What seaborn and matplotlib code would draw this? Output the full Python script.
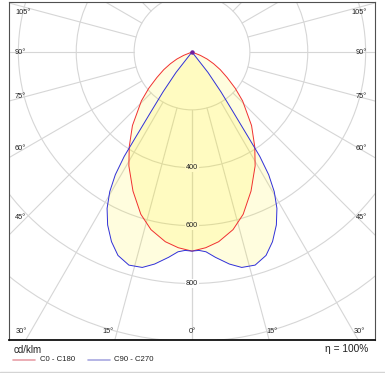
import numpy as np
import pandas as pd
import matplotlib
matplotlib.use("Agg")
import matplotlib.pyplot as plt
from matplotlib.lines import Line2D
from matplotlib.patches import Circle
import seaborn as sns

# ---------------- data (cd/klm) ----------------
red_gamma = [0, 4, 8, 13, 17.5, 23, 29, 33.5, 39, 46, 50, 54, 58, 61.5, 65, 68, 72]
red_cd = [688, 678, 662, 630, 588, 522, 450, 393, 327, 243, 195, 150, 115, 85, 58, 31, 0]
blue_gamma = [0, 2, 4, 6.5, 10, 13, 16.5, 20, 23, 26, 28.5, 30.5, 32, 33, 33.5, 34.5, 36, 38, 40]
blue_cd = [688, 686, 692, 714, 744, 764, 768, 748, 712, 665, 615, 560, 500, 430, 350, 250, 170, 90, 0]
ring_values = [200, 400, 600, 800, 1000]
ring_labels = ["400", "600", "800"]
side_angle_labels = ["105°", "90°", "75°", "60°", "45°"]
bottom_angle_labels = ["30°", "15°", "0°", "15°", "30°"]
series_names = ["C0 - C180", "C90 - C270"]
unit_text = "cd/klm"
eta_text = "η = 100%"

sns.set_theme(style="white")
plt.rcParams["font.family"] = ["Liberation Sans", "DejaVu Sans"]

W, H = 385, 373
fig = plt.figure(figsize=(W / 100, H / 100), dpi=100)
fig.patch.set_facecolor("white")

# axes box in pixels
L, R, T, B = 9, 375, 2, 340
cx, cy = 192, 52
k = 0.2894  # px per cd/klm
ax = fig.add_axes([L / W, 1 - B / H, (R - L) / W, (B - T) / H])
ax.set_xlim(-(cx - L) / k, (R - cx) / k)
ax.set_ylim(-(B - cy) / k, (cy - T) / k)
ax.set_aspect("equal", adjustable="box")
ax.set_xticks([])
ax.set_yticks([])
ax.set_facecolor("white")
for s in ["left", "right", "top"]:
    ax.spines[s].set_color("#505050")
    ax.spines[s].set_linewidth(0.8)
ax.spines["bottom"].set_color("#101010")
ax.spines["bottom"].set_linewidth(1.3)

grid_c = "#d6d6d6"
# rings
for rv in ring_values:
    ax.add_patch(Circle((0, 0), rv, fill=False, ec=grid_c, lw=0.8, zorder=1))
# radial lines every 15 deg, starting at inner ring
for g in range(0, 181, 15):
    for sgn in (-1, 1):
        gr = np.radians(g)
        ax.plot([sgn * 200 * np.sin(gr), sgn * 1500 * np.sin(gr)],
                [-200 * np.cos(gr), -1500 * np.cos(gr)], color=grid_c, lw=0.8, zorder=1)


def closed_curve(gam, cd):
    gam = np.asarray(gam, float)
    cd = np.asarray(cd, float)
    ang = np.concatenate([gam[::-1], gam[1:]])
    val = np.concatenate([cd[::-1], cd[1:]])
    sgn = np.concatenate([-np.ones(len(gam)), np.ones(len(gam) - 1)])
    x = sgn * val * np.sin(np.radians(ang))
    y = -val * np.cos(np.radians(ang))
    return pd.DataFrame({"x": x, "y": y, "i": np.arange(len(x))})


df_red = closed_curve(red_gamma, red_cd)
df_blue = closed_curve(blue_gamma, blue_cd)

fill_c = "#FFF000"
ax.fill(df_blue["x"], df_blue["y"], color=fill_c, alpha=0.13, lw=0, zorder=2)
ax.fill(df_red["x"], df_red["y"], color=fill_c, alpha=0.13, lw=0, zorder=2)

red_c = "#F03030"
blue_c = "#3030D8"
sns.lineplot(data=df_red, x="x", y="y", sort=False, estimator=None, color=red_c,
             lw=0.7, ax=ax, zorder=4)
sns.lineplot(data=df_blue, x="x", y="y", sort=False, estimator=None, color=blue_c,
             lw=0.7, ax=ax, zorder=4)
ax.plot([0], [0], marker="o", ms=2.2, color="#7020A0", zorder=5)
ax.set_xlabel("")
ax.set_ylabel("")

# ring labels
overlap_bg = "#FFFAC4"
for lab in ring_labels:
    v = float(lab)
    bg = "white" if v >= 800 else overlap_bg
    ax.text(0, -v, lab, ha="center", va="center", fontsize=5.2, color="#202020",
            zorder=6, bbox=dict(boxstyle="square,pad=0.12", fc=bg, ec="none"))


def ftext(px, py, s, **kw):
    fig.text(px / W, 1 - py / H, s, **kw)


lbl_kw = dict(fontsize=5.3, color="#202020", va="center")
side_y = [13, 52, 97, 148, 218]
for lab, py in zip(side_angle_labels, side_y):
    ftext(15, py, lab, ha="left", **lbl_kw)
    ftext(367, py, lab, ha="right", **lbl_kw)
bottom_x = [21.5, 108, 192, 272, 359]
for lab, px in zip(bottom_angle_labels, bottom_x):
    ftext(px, 331.5, lab, ha="center", **lbl_kw)

# footer
ftext(14, 350, unit_text, ha="left", va="center", fontsize=7, color="#202020")
ftext(368, 349, eta_text, ha="right", va="center", fontsize=7.3, color="#202020")
leg_y = 1 - 359.5 / H
fig.add_artist(Line2D([13 / W, 35 / W], [leg_y, leg_y], color="#E8A0A8", lw=1.2))
ftext(40, 359.5, series_names[0], ha="left", va="center", fontsize=5.6, color="#202020")
fig.add_artist(Line2D([88 / W, 110 / W], [leg_y, leg_y], color="#A8A8E0", lw=1.2))
ftext(114, 359.5, series_names[1], ha="left", va="center", fontsize=5.6, color="#202020")
sep_y = 1 - 372 / H
fig.add_artist(Line2D([0, 1], [sep_y, sep_y], color="#d4d4d4", lw=1.0))

fig.savefig("out.png", dpi=100, facecolor="white")
